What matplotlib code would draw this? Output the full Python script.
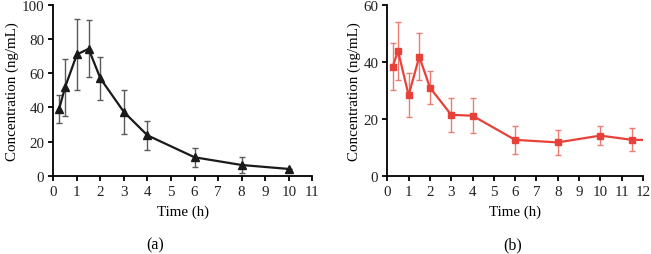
import matplotlib
matplotlib.use("Agg")
import matplotlib.pyplot as plt

plt.rcParams.update({'font.family': 'Liberation Serif', 'font.size': 10.8})

# panel (a)
time_a = [0.25, 0.5, 1, 1.5, 2, 3, 4, 6, 8, 10]
conc_a = [39.2, 51.8, 70.9, 74.2, 56.9, 37.3, 23.7, 10.9, 6.4, 4.1]
err_a = [8.3, 16.7, 20.7, 16.7, 12.5, 12.6, 8.4, 5.6, 4.4, 0.0]

# panel (b)
time_b = [0.25, 0.5, 1, 1.5, 2, 3, 4, 6, 8, 10, 11.5, 12]
conc_b = [38.4, 44.0, 28.4, 42.0, 31.1, 21.5, 21.2, 12.7, 11.8, 14.2, 12.7, 12.7]
err_b = [8.2, 10.1, 7.8, 8.2, 5.8, 5.9, 6.1, 4.8, 4.4, 3.2, 4.0, 0.0]

black = "#1a1a1a"
grey = "#5a5a5a"
red = "#e8413a"
light_red = "#ec7b72"

fig = plt.figure(figsize=(6.51, 2.55), dpi=100)
ax1 = fig.add_axes([0.0819, 0.306, 0.3978, 0.672])
ax2 = fig.add_axes([0.595, 0.306, 0.3925, 0.669])

ax1.errorbar(time_a, conc_a, yerr=err_a, fmt='none', ecolor=grey,
             elinewidth=1.0, capsize=2.5, capthick=1.0, zorder=2)
ax1.plot(time_a, conc_a, color=black, lw=1.6, marker='^', ms=6, zorder=3)
ax1.set_xlim(0, 11)
ax1.set_ylim(0, 100)
ax1.set_xticks(range(0, 12))
ax1.set_yticks(range(0, 101, 20))

# last point has no marker
ax2.errorbar(time_b[:-1], conc_b[:-1], yerr=err_b[:-1], fmt='none', ecolor=light_red,
             elinewidth=1.0, capsize=2.5, capthick=1.0, zorder=2)
ax2.plot(time_b, conc_b, color=red, lw=1.6, marker='s', ms=5,
         markevery=list(range(len(time_b) - 1)), zorder=3)
ax2.set_xlim(0, 12)
ax2.set_ylim(0, 60)
ax2.set_xticks(range(0, 13))
ax2.set_yticks(range(0, 61, 20))

for ax in (ax1, ax2):
    ax.spines['top'].set_visible(False)
    ax.spines['right'].set_visible(False)
    ax.spines['left'].set_linewidth(1.3)
    ax.spines['bottom'].set_linewidth(1.3)
    ax.tick_params(direction='out', length=3.5, width=1.3, pad=3, colors='black',
                   labelcolor='#222222')
    ax.set_xlabel("Time (h)", labelpad=5)
    ax.set_ylabel("Concentration (ng/mL)", labelpad=2)

fig.text(0.238, 0.008, "(a)", ha='center', va='bottom', fontsize=11.5)
fig.text(0.788, 0.008, "(b)", ha='center', va='bottom', fontsize=11.5)

fig.savefig("out.png", dpi=100)
